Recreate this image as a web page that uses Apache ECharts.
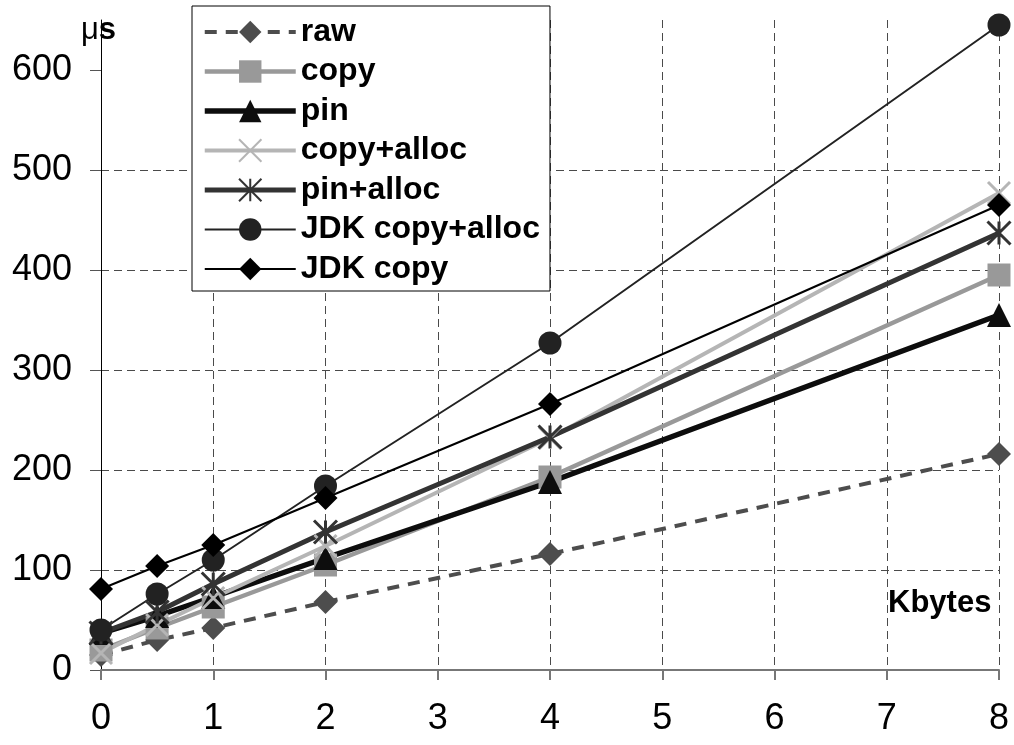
<!DOCTYPE html>
<html>
<head>
<meta charset="utf-8">
<script src="https://cdn.jsdelivr.net/npm/echarts@6/dist/echarts.min.js"></script>
<style>html,body{margin:0;padding:0;background:#fff;}#main{width:1014px;height:745px;}</style>
</head>
<body>
<div id="main"></div>
<script>
var kbytes = [0, 0.5, 1, 2, 4, 8];
var seriesNames = ['raw', 'copy', 'pin', 'copy+alloc', 'pin+alloc', 'JDK copy+alloc', 'JDK copy'];
var raw = [15, 30, 42, 68, 116, 216];
var copy = [20, 42, 63, 105, 193, 395];
var pin = [37, 54, 73, 112, 188, 355];
var copyAlloc = [17, 45, 72, 124, 232, 477];
var pinAlloc = [37, 58, 86, 138, 233, 437];
var jdkCopyAlloc = [40, 76, 110, 184, 327, 645];
var jdkCopy = [81, 104, 125, 172, 266, 465];
var xTicks = [0, 1, 2, 3, 4, 5, 6, 7, 8];
var yTicks = [0, 100, 200, 300, 400, 500, 600];

var FONT = "'Liberation Sans', Arial, sans-serif";
var X_PATH = 'path://M0,0L20,20M20,0L0,20';
var STAR_PATH = 'path://M0,0L20,20M20,0L0,20M10,0L10,20';

function pairs(vals) { return kbytes.map(function (k, i) { return [k, vals[i]]; }); }

function mk(name, vals, color, width, symbol, size, extra) {
  var s = {
    name: name, type: 'line', data: pairs(vals),
    symbol: symbol, symbolSize: size, showSymbol: true,
    lineStyle: { color: color, width: width, type: 'solid' },
    itemStyle: { color: color, borderWidth: 0 },
    emphasis: { disabled: true }
  };
  if (extra) extra(s);
  return s;
}

var series = [
  mk(seriesNames[0], raw, '#4d4d4d', 4, 'diamond', 24, function (s) { s.lineStyle.type = [12, 9]; }),
  mk(seriesNames[1], copy, '#999999', 4.5, 'rect', 23),
  mk(seriesNames[2], pin, '#0d0d0d', 5.5, 'triangle', 24),
  mk(seriesNames[3], copyAlloc, '#b5b5b5', 4, X_PATH, 22, function (s) { s.itemStyle = { color: '#b5b5b5', borderColor: '#b5b5b5', borderWidth: 3 }; }),
  mk(seriesNames[4], pinAlloc, '#333333', 5, STAR_PATH, 23, function (s) { s.itemStyle = { color: '#333333', borderColor: '#333333', borderWidth: 3 }; }),
  mk(seriesNames[5], jdkCopyAlloc, '#222222', 2, 'circle', 23),
  mk(seriesNames[6], jdkCopy, '#000000', 2, 'diamond', 24)
];

var chart = echarts.init(document.getElementById('main'), null, { renderer: 'canvas' });
chart.setOption({
  animation: false,
  backgroundColor: '#fff',
  grid: { left: 101, right: 15, top: 20, bottom: 75, containLabel: false },
  legend: {
    orient: 'vertical', left: 192, top: 6,
    itemWidth: 91, itemHeight: 28, itemGap: 7.5,
    padding: [10, 10, 6, 10],
    borderColor: '#000', borderWidth: 1, backgroundColor: '#fff',
    lineStyle: { width: 'inherit', type: 'inherit', color: 'inherit' },
    textStyle: { fontFamily: FONT, fontSize: 32, fontWeight: 'bold', color: '#000', lineHeight: 28 },
    data: seriesNames
  },
  xAxis: {
    type: 'value', min: 0, max: 8, interval: 1,
    axisLine: { show: true, onZero: false, lineStyle: { color: '#777', width: 2 } },
    axisTick: { show: true, length: 10, lineStyle: { color: '#777', width: 2 } },
    axisLabel: { margin: 31, fontFamily: FONT, fontSize: 36, color: '#000', customValues: xTicks },
    splitLine: { show: true, showMinLine: false, lineStyle: { color: '#4a4a4a', width: 1, type: [8, 5] } }
  },
  yAxis: {
    type: 'value', min: 0, max: 650, interval: 100,
    axisLine: { show: true, lineStyle: { color: '#000', width: 1 } },
    axisTick: { show: true, length: 11, lineStyle: { color: '#555', width: 1 }, customValues: yTicks },
    axisLabel: { margin: 29, fontFamily: FONT, fontSize: 36, color: '#000', customValues: yTicks },
    splitLine: { show: true, showMinLine: false, showMaxLine: false, lineStyle: { color: '#4a4a4a', width: 1, type: [8, 5] } }
  },
  graphic: [
    { type: 'text', left: 81, top: 15, z: 100,
      style: { text: '{a|μ}{b|s}', rich: { a: { fontFamily: FONT, fontSize: 31, fill: '#000' }, b: { fontFamily: FONT, fontSize: 31, fontWeight: 'bold', fill: '#000' } } } },
    { type: 'text', left: 888, top: 588, z: 100,
      style: { text: 'Kbytes', fontFamily: FONT, fontSize: 31, fontWeight: 'bold', fill: '#000' } }
  ],
  series: series
});
</script>
</body>
</html>
